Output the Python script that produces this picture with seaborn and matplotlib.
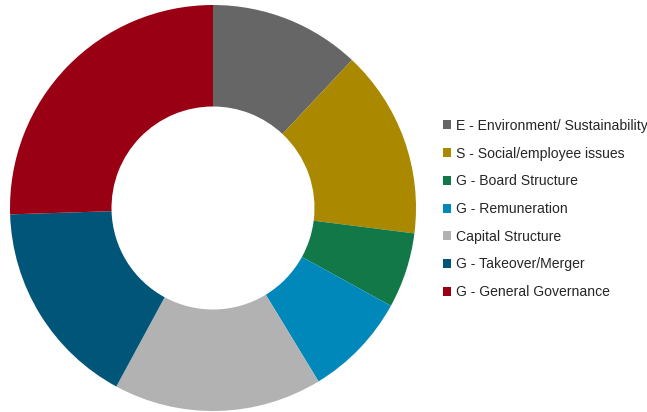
import matplotlib
matplotlib.use("Agg")
import matplotlib.pyplot as plt
from matplotlib.patches import Patch
import seaborn as sns

categories = [
    "E - Environment/ Sustainability",
    "S - Social/employee issues",
    "G - Board Structure",
    "G - Remuneration",
    "Capital Structure",
    "G - Takeover/Merger",
    "G - General Governance",
]
values = [12.0, 15.0, 6.0, 8.3, 16.6, 16.6, 25.5]
colors = ["#666666", "#AA8800", "#137847", "#0088BB", "#B2B2B2", "#005578", "#990014"]

sns.set_style("white")
plt.rcParams["font.family"] = ["Liberation Sans", "DejaVu Sans"]
palette = sns.color_palette(colors)

W, H = 647, 412
fig = plt.figure(figsize=(W / 100, H / 100), dpi=100)
ax = fig.add_axes([10 / W, 1 / H, 406 / W, 406 / H])
ax.pie(values, colors=palette, startangle=90, counterclock=False,
       wedgeprops=dict(width=0.5, linewidth=0))
ax.set_xlim(-1, 1)
ax.set_ylim(-1, 1)
ax.set_aspect("equal")
ax.axis("off")

handles = [Patch(facecolor=c, edgecolor="none") for c in palette]
fig.legend(handles, categories, loc="center left",
           bbox_to_anchor=(443 / W, 1 - 209 / H), frameon=False,
           fontsize=10.1, handlelength=0.6, handleheight=0.6,
           handletextpad=0.3, labelspacing=0.98, borderpad=0, borderaxespad=0)

fig.savefig("out.png", dpi=100)
